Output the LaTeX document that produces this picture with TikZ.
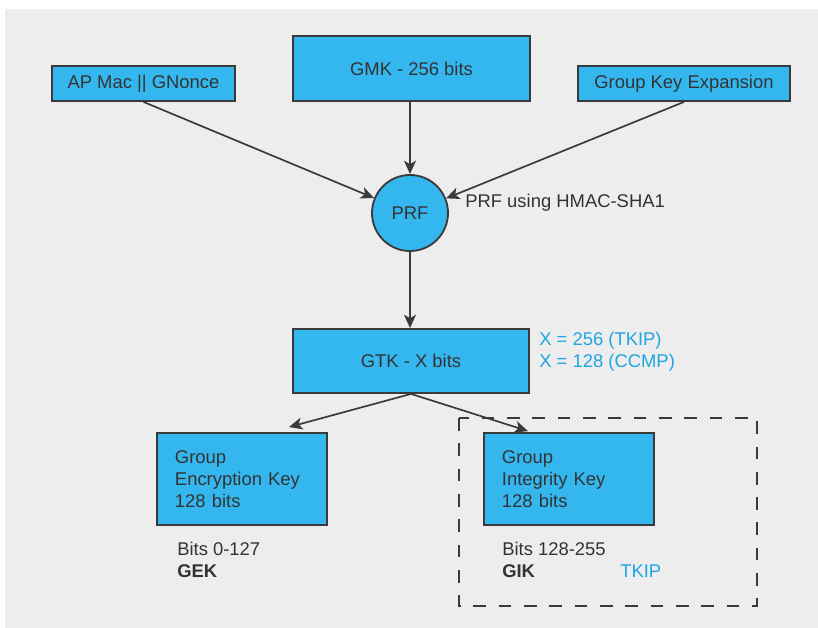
\documentclass[tikz,border=0pt]{standalone}
\usepackage{fontspec}
\setmainfont{Liberation Sans}
\usepackage{tikz}
\usetikzlibrary{calc,arrows.meta}
\definecolor{bg}{HTML}{ECEDEC}
\definecolor{keyblue}{HTML}{33B7EE}
\definecolor{edge}{HTML}{3A3A3A}
\definecolor{text}{HTML}{333333}
\definecolor{note}{HTML}{1FA6E3}
\newcommand{\keyfont}{\fontsize{13.1}{15.7}\selectfont}
\tikzset{
  box/.style={draw=edge, fill=keyblue, line width=1.3pt, text=text, font=\keyfont, inner sep=0pt},
  keybox/.style={box, align=left, inner xsep=0.45cm, text width=3.35cm, minimum height=2.3cm},
  flow/.style={draw=edge, line width=1.2pt, -{Stealth[length=9.5pt, width=8.5pt, inset=2.5pt]}},
  lab/.style={text=text, font=\keyfont, inner sep=0pt, anchor=west, align=left},
  labn/.style={lab, text=note},
  frame/.style={draw=edge, line width=1.3pt, dash pattern=on 9pt off 9pt},
}

\begin{document}
\begin{tikzpicture}[x=0.025cm, y=-0.025cm]
  \useasboundingbox (0,0) rectangle (818,628);
  \fill[bg] (5,9) rectangle (818,628);

  % inputs
  \node[box, minimum width=4.575cm, minimum height=0.875cm] (apmac) at (143.5,83.5) {AP Mac || GNonce};
  \node[box, minimum width=5.925cm, minimum height=1.625cm] (gmk) at (411.5,68.5) {GMK - 256 bits};
  \node[box, minimum width=5.3cm, minimum height=0.875cm] (gke) at (684,83.5) {Group Key Expansion};

  % prf
  \node[box, circle, minimum size=1.9cm] (prf) at (410,213) {PRF};
  \node[lab] (prfnote) at (465,203) {PRF using HMAC-SHA1};

  % gtk
  \node[box, minimum width=5.9cm, minimum height=1.6cm] (gtk) at (411,361) {GTK - X bits};
  \node[labn] (xnote) at (539,352) {X = 256 (TKIP)\\X = 128 (CCMP)};

  % split keys
  \node[keybox] (gek) at (242,479) {Group\\Encryption Key\\128 bits};
  \node[keybox] (gik) at (569,479) {Group\\Integrity Key\\128 bits};
  \node[lab] (gekbits) at (177,559.5) {Bits 0-127\\\textbf{GEK}};
  \node[lab] (gikbits) at (502,559.5) {Bits 128-255\\\textbf{GIK}};
  \node[labn] (tkip) at (620,571) {TKIP};
  \draw[frame] (459,418) rectangle (757,606);

  \coordinate (gekin) at ($(gek.north)+(47,-5)$);
  \coordinate (gikin) at ($(gik.north)+(-41,-1)$);

  \draw[flow] (apmac.south) -- (prf);
  \draw[flow] (gmk.south -| prf) -- (prf);
  \draw[flow] (gke.south) -- (prf);
  \draw[flow] (prf) -- (gtk.north -| prf);
  \draw[flow] (gtk.south) -- (gekin);
  \draw[flow] (gtk.south) -- (gikin);
\end{tikzpicture}
\end{document}
